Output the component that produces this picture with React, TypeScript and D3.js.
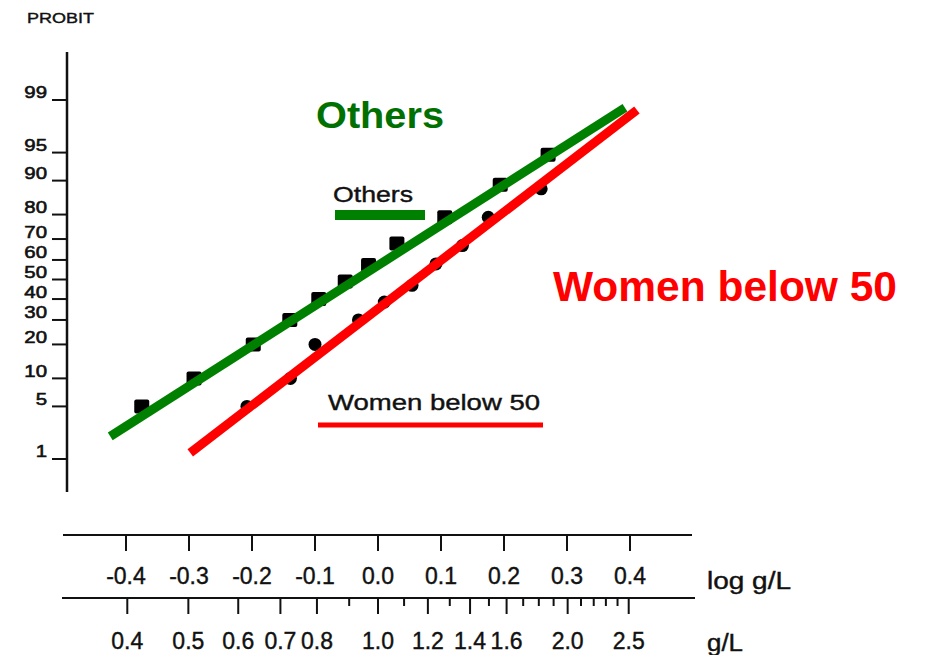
import React from "react";
import * as d3 from "d3";

// ---------- data ----------
const yTickPct = [1, 5, 10, 20, 30, 40, 50, 60, 70, 80, 90, 95, 99];
const logTicks = [-0.4, -0.3, -0.2, -0.1, 0.0, 0.1, 0.2, 0.3, 0.4];
const glMajor = [0.4, 0.5, 0.6, 0.7, 0.8, 1.0, 1.2, 1.4, 1.6, 2.0, 2.5];
const glMinor = [0.9, 1.1, 1.3, 1.5, 1.7, 1.8, 1.9, 2.1, 2.2, 2.3, 2.4];

const othersLog = [-0.375, -0.292, -0.198, -0.14, -0.094, -0.052, -0.015, 0.03, 0.106, 0.194, 0.27];
const othersPct = [5, 10, 20, 30, 40, 49, 57.5, 68, 79, 89, 94.7];
const womenLog = [-0.208, -0.139, -0.1, -0.031, 0.01, 0.054, 0.092, 0.134, 0.175, 0.259];
const womenPct = [5, 10, 20, 30, 38.5, 47, 58, 67, 79, 88];

// fitted lines (endpoints in data units)
const othersFitLog = [-0.425, 0.392];
const othersFitPct = [2.1, 98.7];
const womenFitLog = [-0.298, 0.411];
const womenFitPct = [1.23, 98.6];

// inverse standard normal (Acklam)
function probit(pct: number): number {
  const p = pct / 100;
  const a = [-3.969683028665376e1, 2.209460984245205e2, -2.759285104469687e2, 1.38357751867269e2, -3.066479806614716e1, 2.506628277459239];
  const b = [-5.447609879822406e1, 1.615858368580409e2, -1.556989798598866e2, 6.680131188771972e1, -1.328068155288572e1];
  const c = [-7.784894002430293e-3, -3.223964580411365e-1, -2.400758277161838, -2.549671750376070, 4.374664141464968, 2.938163982698783];
  const d = [7.784695709041462e-3, 3.224671290700398e-1, 2.445134137142996, 3.754408661907416];
  const pl = 0.02425;
  if (p < pl) {
    const q = Math.sqrt(-2 * Math.log(p));
    return (((((c[0] * q + c[1]) * q + c[2]) * q + c[3]) * q + c[4]) * q + c[5]) / ((((d[0] * q + d[1]) * q + d[2]) * q + d[3]) * q + 1);
  }
  if (p <= 1 - pl) {
    const q = p - 0.5;
    const r = q * q;
    return ((((((a[0] * r + a[1]) * r + a[2]) * r + a[3]) * r + a[4]) * r + a[5]) * q) / (((((b[0] * r + b[1]) * r + b[2]) * r + b[3]) * r + b[4]) * r + 1);
  }
  const q = Math.sqrt(-2 * Math.log(1 - p));
  return -(((((c[0] * q + c[1]) * q + c[2]) * q + c[3]) * q + c[4]) * q + c[5]) / ((((d[0] * q + d[1]) * q + d[2]) * q + d[3]) * q + 1);
}

export default function App() {
  const x = d3.scaleLinear().domain([-0.4, 0.4]).range([126, 630]);
  const y = d3.scaleLinear().domain([probit(1), probit(99)]).range([459, 100]);
  const py = (pct: number) => y(probit(pct));
  const xg = (v: number) => x(Math.log10(v));

  const line = d3
    .line<[number, number]>()
    .x((d) => x(d[0]))
    .y((d) => py(d[1]));

  const othersPts = othersLog.map((v, i) => [v, othersPct[i]] as [number, number]);
  const womenPts = womenLog.map((v, i) => [v, womenPct[i]] as [number, number]);
  const othersFit = othersFitLog.map((v, i) => [v, othersFitPct[i]] as [number, number]);
  const womenFit = womenFitLog.map((v, i) => [v, womenFitPct[i]] as [number, number]);

  const font = "'Liberation Sans', Arial, Helvetica, sans-serif";
  const axisTop = 535;
  const axisBot = 598;

  return (
    <svg
      width={925}
      height={655}
      style={{ position: "absolute", left: 0, top: 0, background: "#fff" }}
      fontFamily={font}
    >
      {/* PROBIT label */}
      <text x={27} y={23} fontSize={15} textLength={67} lengthAdjust="spacingAndGlyphs" fill="#111" stroke="#111" strokeWidth={0.4}>
        PROBIT
      </text>

      {/* Y axis */}
      <line x1={67} x2={67} y1={52} y2={492} stroke="#111" strokeWidth={2.5} />
      {yTickPct.map((p) => (
        <g key={p}>
          <line x1={52} x2={67} y1={py(p)} y2={py(p)} stroke="#111" strokeWidth={2} />
          <text
            x={47 / 1.2}
            y={py(p) - 1.5}
            transform="scale(1.2,1)"
            textAnchor="end"
            fontSize={17}
            fill="#111"
            stroke="#111"
            strokeWidth={0.6}
          >
            {p}
          </text>
        </g>
      ))}

      {/* markers */}
      {othersPts.map((d, i) => (
        <rect key={"o" + i} x={x(d[0]) - 7.5} y={py(d[1]) - 7} width={15} height={14} rx={2} fill="#000" />
      ))}
      {womenPts.map((d, i) => (
        <circle key={"w" + i} cx={x(d[0])} cy={py(d[1])} r={6.5} fill="#000" />
      ))}

      {/* fitted lines */}
      <path d={line(othersFit) || ""} stroke="#008000" strokeWidth={9} fill="none" />
      <path d={line(womenFit) || ""} stroke="#ff0000" strokeWidth={9} fill="none" />

      {/* legend */}
      <text x={333} y={202} fontSize={22} textLength={80} lengthAdjust="spacingAndGlyphs" fill="#111" stroke="#111" strokeWidth={0.4}>
        Others
      </text>
      <line x1={335} x2={425} y1={215} y2={215} stroke="#008000" strokeWidth={10} />
      <text x={328} y={410} fontSize={22} textLength={212} lengthAdjust="spacingAndGlyphs" fill="#111" stroke="#111" strokeWidth={0.4}>
        Women below 50
      </text>
      <line x1={318} x2={543} y1={425} y2={425} stroke="#ff0000" strokeWidth={5} />

      {/* big labels */}
      <text x={316} y={128} fontSize={36} fontWeight="bold" textLength={128} lengthAdjust="spacingAndGlyphs" fill="#007000">
        Others
      </text>
      <text x={553} y={301} fontSize={42} fontWeight="bold" textLength={344} lengthAdjust="spacingAndGlyphs" fill="#ff0000">
        Women below 50
      </text>

      {/* log g/L axis */}
      <line x1={63} x2={692} y1={axisTop} y2={axisTop} stroke="#111" strokeWidth={2} />
      {logTicks.map((t) => (
        <g key={t}>
          <line x1={x(t)} x2={x(t)} y1={axisTop} y2={axisTop + 16} stroke="#111" strokeWidth={2} />
          <text x={x(t)} y={584} fontSize={23} textAnchor="middle" fill="#111" stroke="#111" strokeWidth={0.4}>
            {d3.format(".1f")(t).replace("−", "-")}
          </text>
        </g>
      ))}
      <text x={707} y={589} fontSize={23} textLength={84} lengthAdjust="spacingAndGlyphs" fill="#111" stroke="#111" strokeWidth={0.4}>
        log g/L
      </text>

      {/* g/L axis */}
      <line x1={62} x2={695} y1={axisBot} y2={axisBot} stroke="#111" strokeWidth={2} />
      {glMajor.map((v) => (
        <g key={v}>
          <line x1={xg(v)} x2={xg(v)} y1={axisBot} y2={axisBot + 16} stroke="#111" strokeWidth={2} />
          <text x={xg(v)} y={649} fontSize={23} textAnchor="middle" fill="#111" stroke="#111" strokeWidth={0.4}>
            {d3.format(".1f")(v)}
          </text>
        </g>
      ))}
      {glMinor.map((v) => (
        <line key={v} x1={xg(v)} x2={xg(v)} y1={axisBot} y2={axisBot + 8} stroke="#111" strokeWidth={2} />
      ))}
      <text x={707} y={651} fontSize={23} textLength={36} lengthAdjust="spacingAndGlyphs" fill="#111" stroke="#111" strokeWidth={0.4}>
        g/L
      </text>
    </svg>
  );
}
